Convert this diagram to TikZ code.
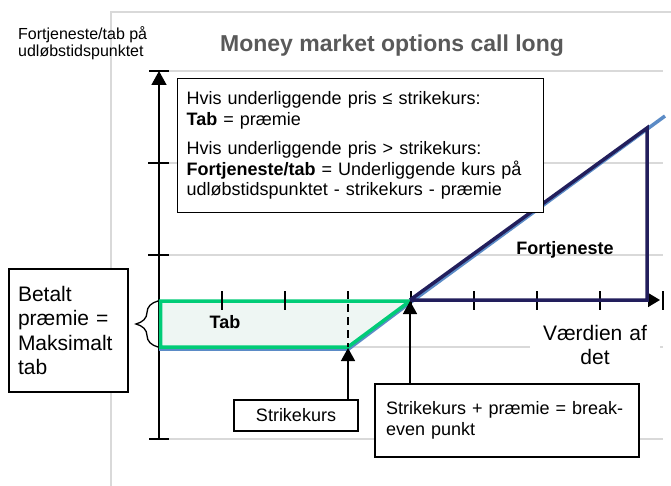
\documentclass[tikz,border=0pt]{standalone}
\usepackage{fontspec}
\setmainfont{Liberation Sans}
\usetikzlibrary{decorations.pathreplacing,arrows.meta}
\definecolor{gridc}{HTML}{D9D9D9}
\definecolor{tgreen}{HTML}{00CC77}
\definecolor{tfill}{HTML}{EEF6F3}
\definecolor{navyc}{HTML}{221E5C}
\definecolor{steelc}{HTML}{5B8BC6}
\definecolor{ttlc}{HTML}{595959}
\tikzset{
  gridline/.style={gridc, line width=1.5pt},
  axisline/.style={black, line width=1.5pt},
  tickline/.style={black, line width=1.5pt},
  boxnode/.style={draw=black, line width=1.4pt, fill=white, rectangle, inner sep=0pt},
  pointer/.style={black, line width=1.5pt, -{Triangle[length=13pt,width=14pt]}},
  f16/.style={font=\fontsize{16}{17}\selectfont},
  f18/.style={font=\fontsize{18}{20.7}\selectfont},
  f21/.style={font=\fontsize{21}{24.3}\selectfont},
}
\begin{document}
\begin{tikzpicture}[x=1pt,y=-1pt]
\useasboundingbox[fill=white] (0,0) rectangle (671,486);
% frame
\draw[gridc, line width=2pt] (111,486) -- (111,12) -- (671,12);
% gridlines
\foreach \yy in {71,163,255,347,439} \draw[gridline] (159,\yy) -- (663,\yy);
% key points
\coordinate (ytop) at (159,71);
\coordinate (ybot) at (159,439);
\coordinate (K) at (348,348);
\coordinate (BE) at (410,301);
\coordinate (P) at (647,128);
\coordinate (Pb) at (647,300);
\coordinate (xtip) at (660,300);
% y axis
\draw[axisline, -{Triangle[length=14pt,width=15pt]}] (ybot) -- (ytop);
\draw[tickline] (149,71) -- (169,71);
\foreach \yy in {163,255} \draw[tickline] (148,\yy) -- (169,\yy);
\draw[tickline] (149,439) -- (169,439);
% x axis
\draw[axisline, -{Triangle[length=12pt,width=14pt]}] (410,300) -- (xtip);
\draw[tickline] (663,291) -- (663,310);
% steel payoff line
\draw[steelc, line width=3.5pt, line join=round] (159,349) -- (348.5,349) -- (411,302) -- (665,116);
% loss area
\draw[tgreen, line width=3.5pt, fill=tfill] (160.5,301) -- (BE) -- (348,347) -- (160.5,347) -- cycle;
% ticks
\foreach \xx in {222,285,411,474,537,600} \draw[tickline] (\xx,291) -- (\xx,310);
\draw[black, line width=2.5pt, dash pattern=on 8pt off 5pt] (348,291) -- (348,347);
% profit triangle
\draw[navyc, line width=3.5pt, line join=miter] (410,300) -- (P) -- (Pb) -- (410,300);
% brace
\draw[black, line width=1.3pt, decorate, decoration={brace, amplitude=22pt, aspect=0.5}] (158,347) -- (158,301);
% title and axis label
\node[f16, anchor=north west, align=left, inner sep=0pt] (ylab) at (18,26) {Fortjeneste/tab på\\udløbstidspunktet};
\node[font=\fontsize{23}{26}\selectfont\bfseries, text=ttlc, anchor=base] (title) at (392,52) {Money market options call long};
% info box
\node[boxnode, f18, anchor=north west, minimum width=366pt, minimum height=134pt, text width=348pt, inner xsep=9pt, align=left] (info) at (177,78)
 {Hvis underliggende pris ≤ strikekurs:\\ \textbf{Tab} = præmie\\[8pt]
  Hvis underliggende pris > strikekurs:\\ \textbf{Fortjeneste/tab} = Underliggende kurs på\\ udløbstidspunktet - strikekurs - præmie};
% left box
\node[boxnode, f21, minimum width=119pt, minimum height=123pt, text width=101pt, inner xsep=9pt, align=left] (betalt) at (68.5,330.5)
 {Betalt\\præmie =\\Maksimalt\\tab};
% strike box
\node[boxnode, f18, minimum width=124pt, minimum height=31pt] (sbox) at (296,415.5) {Strikekurs};
% breakeven box
\node[boxnode, f18, minimum height=73pt, text width=242pt, inner xsep=11pt, align=left] (bebox) at (507,420.5)
 {Strikekurs + præmie = break-\\even punkt};
% value label
\node[f21, fill=white, inner sep=0pt, text width=130pt, align=center] (vaerdi) at (595,345) {Værdien af\\det};
% area labels
\node[font=\fontsize{18}{20}\selectfont\bfseries] (fort) at (565,250) {Fortjeneste};
\node[font=\fontsize{18}{20}\selectfont\bfseries] (tab) at (225,322) {Tab};
% pointers
\draw[pointer] (sbox.north -| K) -- (K);
\draw[pointer] (bebox.north -| BE) -- (BE);
\end{tikzpicture}
\end{document}
